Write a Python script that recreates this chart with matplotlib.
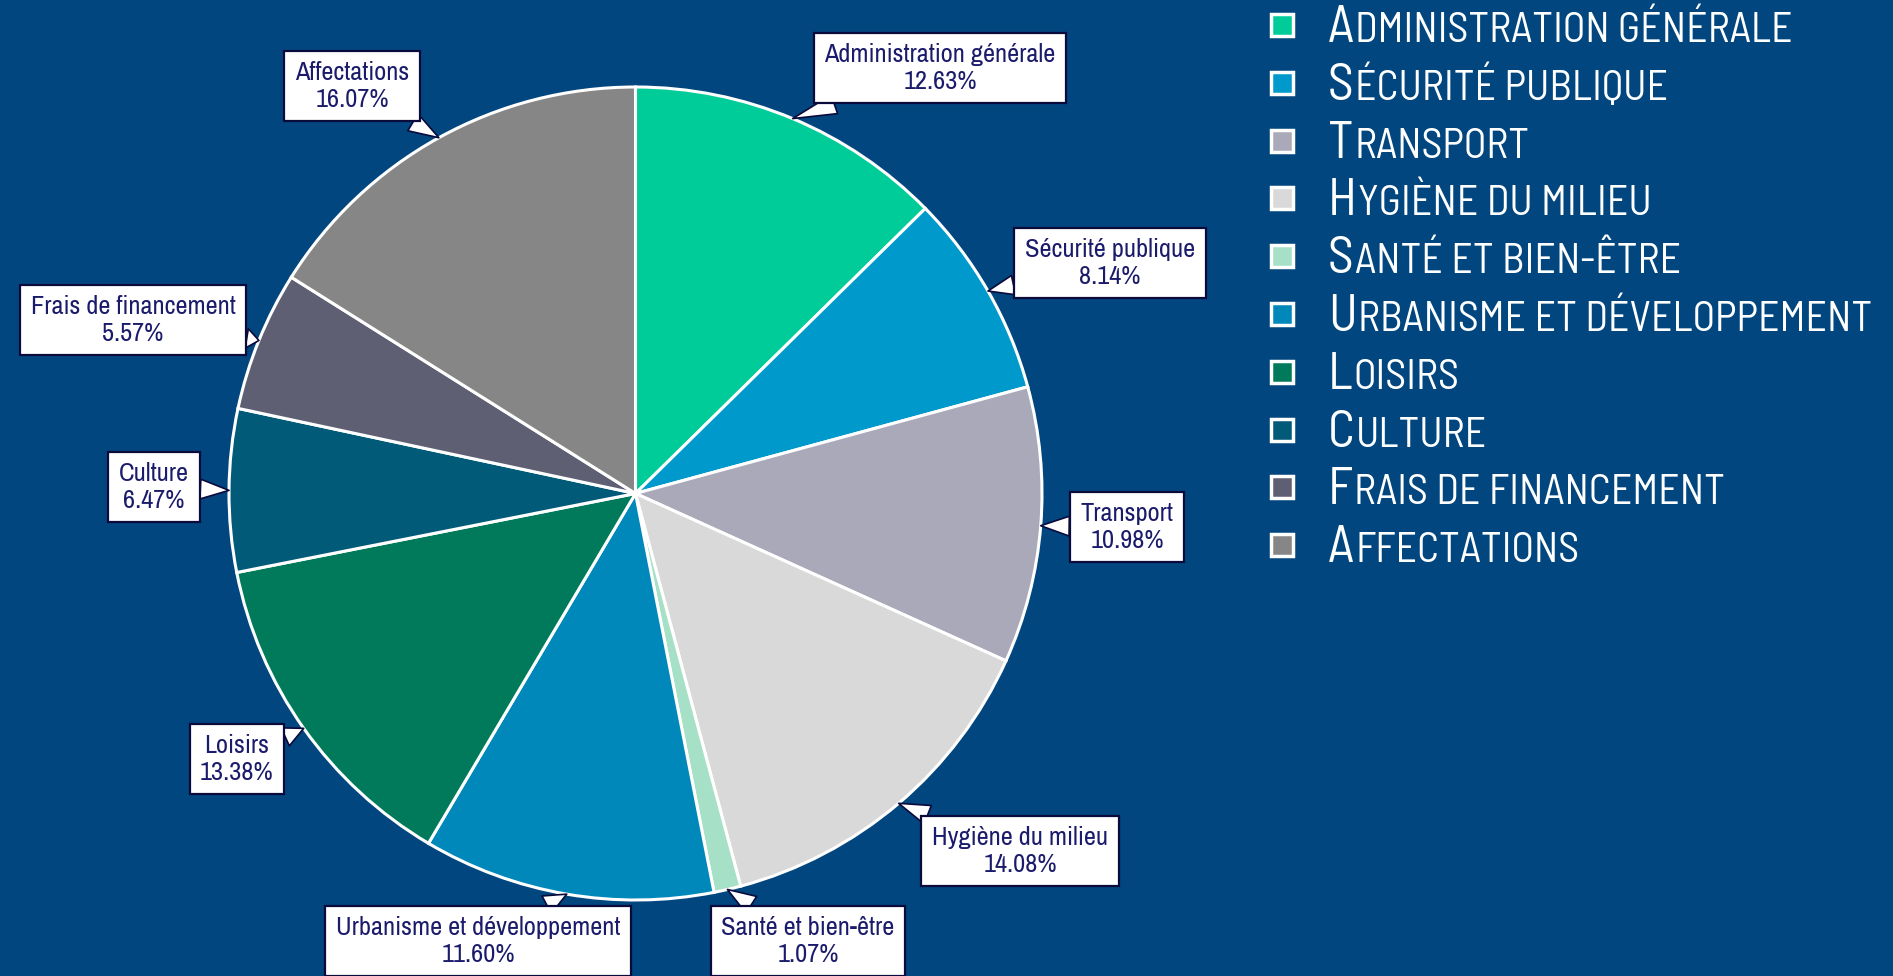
import numpy as np
import matplotlib
matplotlib.use("Agg")
import matplotlib.pyplot as plt
from matplotlib.patches import Rectangle

# Data
categories = ["Administration générale", "Sécurité publique", "Transport",
              "Hygiène du milieu", "Santé et bien-être", "Urbanisme et développement",
              "Loisirs", "Culture", "Frais de financement", "Affectations"]
shares = [12.63, 8.14, 10.98, 14.08, 1.07, 11.60, 13.38, 6.47, 5.57, 16.07]

# Styling
colors = ["#00CC99", "#0099CC", "#A9A9B9", "#D9D9D9", "#A6E0C6",
          "#0088BB", "#007A5A", "#005A78", "#5E5F73", "#868686"]
bg = "#01467E"
navy_text = "#1B1B6B"
navy_edge = "#0A0A3C"
narrow = ["Liberation Sans Narrow", "Archivo Narrow", "DejaVu Sans"]
legend_font = ["Barlow Semi Condensed", "Barlow Condensed", "DejaVu Sans"]

# callout box centres, figure pixels (origin bottom-left)
label_pos = [(940, 908), (1110, 713), (1127, 449), (1020, 125), (808, 35),
             (478, 35), (237, 217), (154, 489), (133, 656), (352, 890)]

W, H = 1893, 976
fig = plt.figure(figsize=(W / 100, H / 100), dpi=100)
fig.patch.set_facecolor(bg)

cx, cy, R = 635.5, H - 493.5, 406.5
ax = fig.add_axes([(cx - R) / W, (cy - R) / H, 2 * R / W, 2 * R / H])

wedges, _ = ax.pie(shares, colors=colors, startangle=90, counterclock=False,
                   radius=1, wedgeprops=dict(edgecolor="white", linewidth=2.2))
ax.set_xlim(-1, 1)
ax.set_ylim(-1, 1)
ax.axis("off")

for w, name, val, pos in zip(wedges, categories, shares, label_pos):
    mid = np.deg2rad((w.theta1 + w.theta2) / 2)
    ax.annotate(f"{name}\n{val:.2f}%", xy=(np.cos(mid), np.sin(mid)), xycoords="data",
                xytext=pos, textcoords="figure pixels", ha="center", va="center",
                multialignment="center", fontsize=19, color=navy_text, family=narrow,
                annotation_clip=False,
                bbox=dict(boxstyle="square,pad=0.4", fc="white", ec=navy_edge, lw=1.6),
                arrowprops=dict(arrowstyle="wedge,tail_width=0.75", fc="white",
                                ec=navy_edge, lw=1.2, shrinkA=0, shrinkB=0))

# Legend in small caps (first letter large, rest upper-case smaller)
fig.canvas.draw()
renderer = fig.canvas.get_renderer()
x_sq, x_txt, y0, step = 1271, 1328, H - 25, 57.8
for i, (name, c) in enumerate(zip(categories, colors)):
    y = y0 - i * step
    fig.patches.append(Rectangle((x_sq / W, (y - 11) / H), 22 / W, 22 / H,
                                 transform=fig.transFigure, fc=c, ec="white", lw=2.5))
    t1 = fig.text(x_txt / W, (y - 17) / H, name[0], fontsize=37, color="white",
                  family=legend_font, va="baseline", ha="left")
    bb = t1.get_window_extent(renderer)
    fig.text((bb.x1 + 1) / W, (y - 17) / H, name[1:].upper(), fontsize=30,
             color="white", family=legend_font, va="baseline", ha="left")

fig.savefig("out.png", dpi=100, facecolor=bg)
